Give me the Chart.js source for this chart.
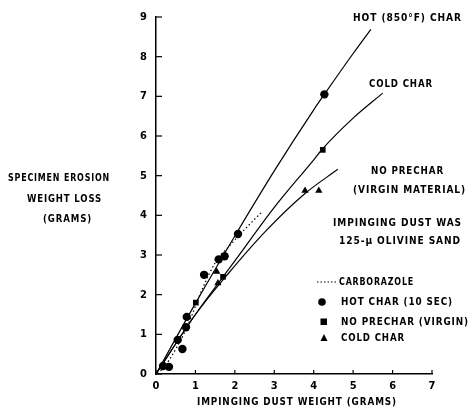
<!DOCTYPE html>
<html><head><meta charset="utf-8">
<script src="https://cdn.jsdelivr.net/npm/chart.js@4"></script>
<style>html,body{margin:0;padding:0;background:#fff}canvas{display:block}</style>
</head><body>
<canvas id="c" width="470" height="415"></canvas>
<script>
// ---- data ----
const xTicks = [0,1,2,3,4,5,6,7];
const yTicks = [0,1,2,3,4,5,6,7,8,9];
const hotCharX = [0.18,0.33,0.55,0.67,0.76,0.78,1.22,1.59,1.74,2.08,4.27];
const hotCharY = [0.20,0.18,0.86,0.63,1.18,1.44,2.50,2.89,2.97,3.53,7.05];
const noPrecharX = [1.01,1.70,4.23];
const noPrecharY = [1.80,2.45,5.65];
const coldCharX = [1.54,1.57,3.78,4.13];
const coldCharY = [2.58,2.29,4.62,4.62];
const carborazoleX = [0.05,0.33,0.75,1.20,1.50,1.88,2.40,2.70];
const carborazoleY = [0.00,0.35,1.10,2.20,2.80,3.25,3.80,4.10];
const hotCurveX = [0,1.00,2.00,3.00,4.00,4.27,5.00,5.45];
const hotCurveY = [0,1.78,3.48,5.12,6.66,7.05,8.08,8.69];
const coldCurveX = [0,1.00,2.00,3.00,4.00,4.21,5.00,5.75];
const coldCurveY = [0,1.50,2.85,4.20,5.40,5.66,6.45,7.08];
const virginCurveX = [0,1.00,1.84,2.80,3.78,4.61];
const virginCurveY = [0,1.50,2.54,3.62,4.55,5.16];

const pts = (xs, ys) => xs.map((x,i)=>({x:x, y:ys[i]}));
const FONT = '"DejaVu Sans Condensed","Liberation Sans Narrow",sans-serif';

function fitText(ctx, txt, x1, x2, cy, size){
  ctx.save();
  ctx.font = 'bold ' + size + 'px ' + FONT;
  ctx.letterSpacing = '1px';
  ctx.textBaseline = 'middle';
  ctx.textAlign = 'left';
  const w = ctx.measureText(txt).width;
  const sx = (x2 - x1) / w;
  ctx.translate(x1, cy);
  ctx.scale(sx, 1);
  ctx.fillStyle = '#000';
  ctx.fillText(txt, 0, 0);
  ctx.restore();
}

const decor = {
  id: 'decor',
  afterDraw(chart){
    const ctx = chart.ctx;
    const xs = chart.scales.x, ys = chart.scales.y;
    ctx.save();
    ctx.strokeStyle = '#000';
    ctx.lineWidth = 1.2;
    // inward ticks
    yTicks.forEach(v => {
      const py = ys.getPixelForValue(v);
      ctx.beginPath(); ctx.moveTo(xs.left, py); ctx.lineTo(xs.left + 6, py); ctx.stroke();
    });
    xTicks.forEach(v => {
      const px = xs.getPixelForValue(v);
      ctx.beginPath(); ctx.moveTo(px, ys.bottom); ctx.lineTo(px, ys.bottom - 4); ctx.stroke();
    });
    ctx.restore();

    // annotations
    fitText(ctx, 'HOT (850°F) CHAR', 353, 462, 18, 11);
    fitText(ctx, 'COLD CHAR', 369, 433, 84, 11);
    fitText(ctx, 'NO PRECHAR', 371, 444, 171, 11);
    fitText(ctx, '(VIRGIN MATERIAL)', 353, 466, 190, 11);
    fitText(ctx, 'IMPINGING DUST WAS', 333, 462, 223, 11);
    fitText(ctx, '125-μ OLIVINE SAND', 339, 461, 241, 11);
    fitText(ctx, 'SPECIMEN EROSION', 8, 110, 178, 11);
    fitText(ctx, 'WEIGHT LOSS', 27, 102, 199, 11);
    fitText(ctx, '(GRAMS)', 43, 92, 219, 11);
    fitText(ctx, 'IMPINGING DUST WEIGHT (GRAMS)', 197, 397, 402, 11);

    // legend
    ctx.save();
    ctx.fillStyle = '#000'; ctx.strokeStyle = '#000';
    ctx.setLineDash([1.5,2]); ctx.lineWidth = 1;
    ctx.beginPath(); ctx.moveTo(317, 282); ctx.lineTo(337, 282); ctx.stroke();
    ctx.setLineDash([]);
    ctx.beginPath(); ctx.arc(322, 302, 3.8, 0, Math.PI*2); ctx.fill();
    ctx.fillRect(320.5, 318.5, 6.5, 6.5);
    ctx.beginPath(); ctx.moveTo(324, 334); ctx.lineTo(327.5, 341); ctx.lineTo(320.5, 341); ctx.closePath(); ctx.fill();
    ctx.restore();
    fitText(ctx, 'CARBORAZOLE', 339, 414, 282, 11);
    fitText(ctx, 'HOT CHAR (10 SEC)', 341, 453, 302, 11);
    fitText(ctx, 'NO PRECHAR (VIRGIN)', 341, 469, 322, 11);
    fitText(ctx, 'COLD CHAR', 341, 405, 338, 11);
  }
};

const lineDs = (data, dash) => ({
  data: data, showLine: true, pointRadius: 0, borderColor: '#000', borderWidth: 1.2,
  borderDash: dash || [], cubicInterpolationMode: 'monotone', fill: false, order: 2
});

new Chart(document.getElementById('c'), {
  type: 'scatter',
  data: {
    datasets: [
      lineDs(pts(hotCurveX, hotCurveY)),
      lineDs(pts(coldCurveX, coldCurveY)),
      lineDs(pts(virginCurveX, virginCurveY)),
      lineDs(pts(carborazoleX, carborazoleY), [1.5,2.5]),
      {data: pts(hotCharX, hotCharY), pointStyle:'circle', pointRadius:4.2, backgroundColor:'#000', borderColor:'#000', borderWidth:0, order:1},
      {data: pts(noPrecharX, noPrecharY), pointStyle:'rect', pointRadius:4, backgroundColor:'#000', borderColor:'#000', borderWidth:0, order:1},
      {data: pts(coldCharX, coldCharY), pointStyle:'triangle', pointRadius:4.2, backgroundColor:'#000', borderColor:'#000', borderWidth:0, order:1}
    ]
  },
  options: {
    responsive: false, animation: false, devicePixelRatio: 1,
    layout: {padding: {left: 136, right: 38, top: 17, bottom: 22}},
    plugins: {legend: {display: false}, tooltip: {enabled: false}},
    scales: {
      x: {
        type: 'linear', min: 0, max: 7,
        afterBuildTicks: s => { s.ticks = xTicks.map(v => ({value: v})); },
        afterFit: s => { s.height = 19; },
        ticks: {color: '#000', padding: 6, font: {family: FONT, size: 11, weight: 'bold'}},
        grid: {drawOnChartArea: false, drawTicks: false},
        border: {display: true, color: '#000', width: 1.5}
      },
      y: {
        type: 'linear', min: 0, max: 9,
        afterBuildTicks: s => { s.ticks = yTicks.map(v => ({value: v})); },
        afterFit: s => { s.width = 20; },
        ticks: {color: '#000', padding: 9, font: {family: FONT, size: 11, weight: 'bold'}},
        grid: {drawOnChartArea: false, drawTicks: false},
        border: {display: true, color: '#000', width: 1.5}
      }
    }
  },
  plugins: [decor]
});
</script>
</body></html>
